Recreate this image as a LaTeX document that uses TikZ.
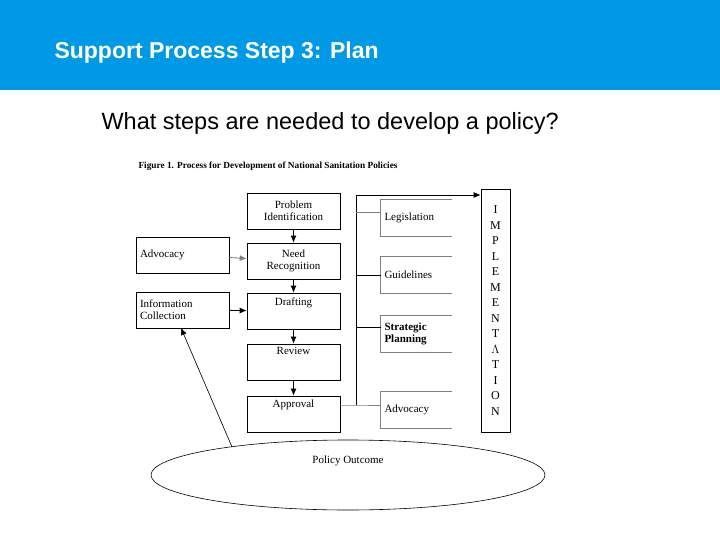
\documentclass[tikz,border=0pt]{standalone}
\usepackage{fontspec}
\setsansfont{Liberation Sans}
\setmainfont{Liberation Serif}
\usetikzlibrary{arrows.meta,shapes.geometric}
\definecolor{hdr}{RGB}{0,153,230}
\begin{document}
\begin{tikzpicture}[x=1pt,y=-1pt,
 bx/.style={draw,line width=0.6pt,font=\fontsize{11}{12}\selectfont,align=center,inner sep=2pt},
 arr/.style={-{Latex[length=7pt,width=6pt]},line width=0.9pt}]
\useasboundingbox (0,0) rectangle (720,540);
\fill[hdr] (0,0) rectangle (720,90);
\node[anchor=west,text=white,font=\sffamily\bfseries\fontsize{23}{26}\selectfont] (title) at (51,53) {Support Process Step 3: Plan};
\node[anchor=west,font=\sffamily\fontsize{23.5}{26}\selectfont] (sub) at (98,123) {What steps are needed to develop a policy?};
\node[anchor=west,font=\bfseries\fontsize{9.3}{10}\selectfont] (cap) at (135,166) {Figure 1. Process for Development of National Sanitation Policies};
\foreach \n/\y/\t in {pi/211/{Problem\\Identification},nr/261/{Need\\Recognition},dr/311/{Drafting\\[6pt]},rv/362/{Review\\[10pt]},ap/414/{Approval\\[8pt]}}
  \node[bx,minimum width=93,minimum height=36] (\n) at (293.5,\y) {\t};
\node[bx,minimum width=93,minimum height=36,align=left,text width=85] (adv) at (182.5,255) {Advocacy\\[6pt]};
\node[bx,minimum width=93,minimum height=36,align=left,text width=85] (ic) at (182.5,310) {Information\\Collection};
\foreach \n/\y/\t in {leg/218/{Legislation\\[10pt]},gui/275/{Guidelines},sp/334/{\bfseries Strategic\\\bfseries Planning},ad2/410/{Advocacy\\[8pt]}}
  \node[bx,draw=none,minimum width=71,minimum height=36,align=left,text width=64] (\n) at (416.5,\y) {\t};
\foreach \n in {leg,gui,sp,ad2} \draw[gray,line width=0.6pt] (\n.north east) -- (\n.north west) -- (\n.south west) -- (\n.south east);
\draw[arr] (pi) -- (nr); \draw[arr] (nr) -- (dr); \draw[arr] (dr) -- (rv); \draw[arr] (rv) -- (ap);
\draw[arr,gray] (adv) -- (nr);
\draw[arr] (ic) -- (dr);
\node[draw,line width=0.6pt,minimum width=29,minimum height=243,align=center,font=\fontsize{12}{15.5}\selectfont] (impl) at (495.5,310.5) {I\\M\\P\\L\\E\\M\\E\\N\\T\\$\Lambda$\\T\\I\\O\\N};
\coordinate (top) at (356,195);
\coordinate (bot) at (356,405);
\draw[line width=0.7pt] (bot) -- (top);
\draw[arr] (top) -- (top -| impl.west);
\draw[gray,line width=0.6pt] (ap.east |- bot) -- (bot) -- (ad2.west |- bot);
\draw[gray,line width=0.6pt] (356,212) -- (leg.west |- 0,212);
\draw[line width=0.6pt] (356,275) -- (gui.west);
\draw[line width=0.6pt] (356,327) -- (sp.west |- 0,327);
\node[draw,ellipse,minimum width=394,minimum height=70,line width=0.6pt,font=\fontsize{11}{12}\selectfont,align=center,inner sep=0pt] (po) at (348,475) {Policy Outcome\\[18pt]};
\coordinate (poe) at (232,447);
\draw[arr,line width=0.6pt] (poe) -- (181,328);
\end{tikzpicture}
\end{document}
